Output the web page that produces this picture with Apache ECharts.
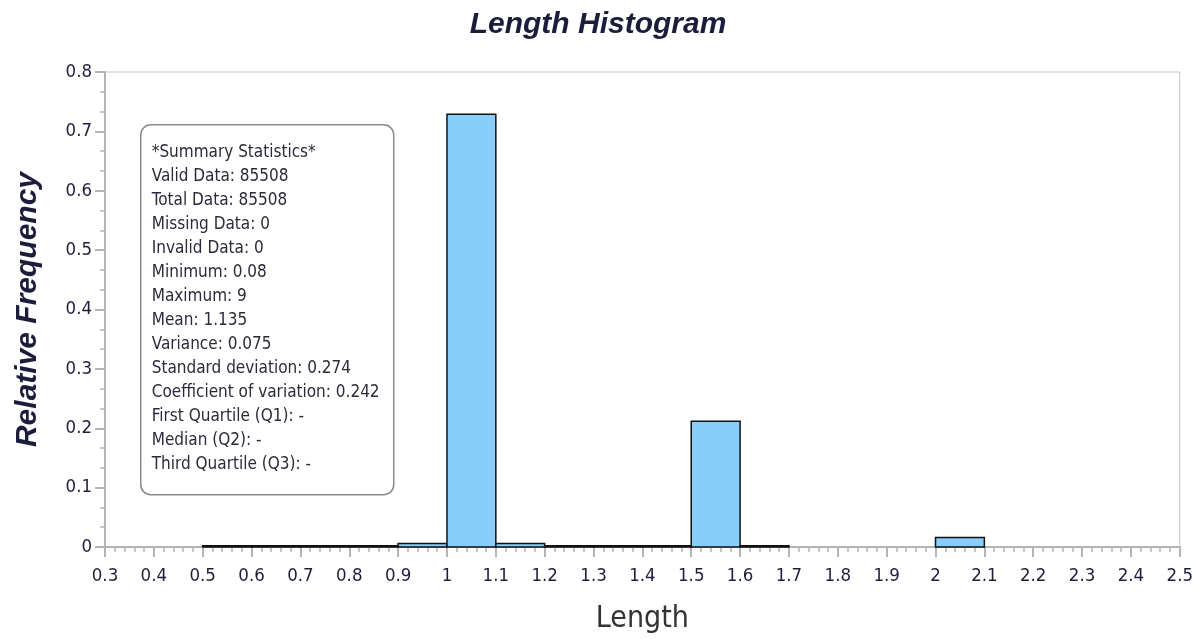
<!DOCTYPE html>
<html>
<head>
<meta charset="utf-8">
<script src="https://cdn.jsdelivr.net/npm/echarts@6/dist/echarts.min.js"></script>
<style>
  html, body { margin: 0; padding: 0; background: #fff; }
  #histChart { width: 1196px; height: 639px; }
</style>
</head>
<body>
<div id="histChart"></div>
<script>
  // bin left edges (width 0.1) and relative frequency
  let binStart = [0.5, 0.6, 0.7, 0.8, 0.9, 1.0, 1.1, 1.2, 1.3, 1.4, 1.5, 1.6, 2.0]
  let relFreq = [0.002, 0.002, 0.002, 0.002, 0.006, 0.729, 0.006, 0.002, 0.002, 0.002, 0.212, 0.002, 0.016]
  let binWidth = 0.1
  let statLines = [
    '*Summary Statistics*',
    'Valid Data: 85508',
    'Total Data: 85508',
    'Missing Data: 0',
    'Invalid Data: 0',
    'Minimum: 0.08',
    'Maximum: 9',
    'Mean: 1.135',
    'Variance: 0.075',
    'Standard deviation: 0.274',
    'Coefficient of variation: 0.242',
    'First Quartile (Q1): -',
    'Median (Q2): -',
    'Third Quartile (Q3): -'
  ]

  let labelFont = 'DejaVu Sans Condensed, Tahoma, sans-serif'
  let binData = binStart.map((s, i) => [s, s + binWidth, relFreq[i]])

  const option = {
    backgroundColor: '#fff',
    title: {
      text: 'Length Histogram',
      left: 'center',
      top: 5,
      textStyle: {
        fontFamily: 'Liberation Sans, Arial, sans-serif',
        fontSize: 30,
        fontWeight: 'bold',
        fontStyle: 'italic',
        color: '#1c1c3c'
      }
    },
    grid: {
      show: true,
      left: 105,
      right: 16,
      top: 72,
      bottom: 92,
      borderColor: '#c4c4c4',
      borderWidth: 1
    },
    xAxis: {
      type: 'value',
      min: 0.3,
      max: 2.5,
      interval: 0.1,
      name: 'Length',
      nameLocation: 'middle',
      nameGap: 57,
      nameTextStyle: {
        fontFamily: labelFont,
        fontSize: 30,
        color: '#333'
      },
      axisLine: { show: true, lineStyle: { color: '#b4b4b4', width: 2 } },
      axisTick: { show: true, length: 10, lineStyle: { color: '#b4b4b4', width: 2 } },
      minorTick: { show: true, splitNumber: 5, length: 5, lineStyle: { color: '#b4b4b4', width: 1.5 } },
      splitLine: { show: false },
      axisLabel: {
        margin: 20,
        fontFamily: labelFont,
        fontSize: 18.5,
        color: '#1e1e3a',
        formatter: v => String(Math.round(v * 10) / 10)
      }
    },
    yAxis: {
      type: 'value',
      min: 0,
      max: 0.8,
      interval: 0.1,
      name: 'Relative Frequency',
      nameLocation: 'middle',
      nameGap: 62,
      nameTextStyle: {
        fontFamily: 'Liberation Sans, Arial, sans-serif',
        fontSize: 30,
        fontWeight: 'bold',
        fontStyle: 'italic',
        color: '#1c1c3c'
      },
      axisLine: { show: true, lineStyle: { color: '#b4b4b4', width: 2 } },
      axisTick: { show: true, length: 10, lineStyle: { color: '#b4b4b4', width: 2 } },
      minorTick: { show: true, splitNumber: 3, length: 5, lineStyle: { color: '#b4b4b4', width: 1.5 } },
      splitLine: { show: false },
      axisLabel: {
        margin: 13,
        fontFamily: labelFont,
        fontSize: 18.5,
        color: '#1e1e3a',
        formatter: v => String(Math.round(v * 10) / 10)
      }
    },
    graphic: [{
      type: 'group',
      left: 140,
      top: 124,
      children: [{
        type: 'rect',
        shape: { x: 0, y: 0, width: 253, height: 370, r: 10 },
        style: { fill: '#fff', stroke: '#8a8a8a', lineWidth: 1.5 }
      }, {
        type: 'text',
        x: 11,
        y: 16,
        style: {
          text: statLines.join('\n'),
          font: '17px ' + labelFont,
          lineHeight: 24,
          fill: '#2b2b3b'
        }
      }]
    }],
    series: [{
      type: 'custom',
      name: 'Length',
      renderItem: function (params, api) {
        let p0 = api.coord([api.value(0), api.value(2)])
        let p1 = api.coord([api.value(1), 0])
        return {
          type: 'rect',
          shape: { x: p0[0], y: p0[1], width: p1[0] - p0[0], height: p1[1] - p0[1] },
          style: { fill: '#87cefa', stroke: '#111', lineWidth: 1.5 }
        }
      },
      encode: { x: [0, 1], y: 2 },
      data: binData,
      z: 3
    }]
  }

  let chart = echarts.init(document.getElementById('histChart'), null, { renderer: 'canvas' })
  chart.setOption(option)
  window.addEventListener('resize', () => chart.resize())
</script>
</body>
</html>
